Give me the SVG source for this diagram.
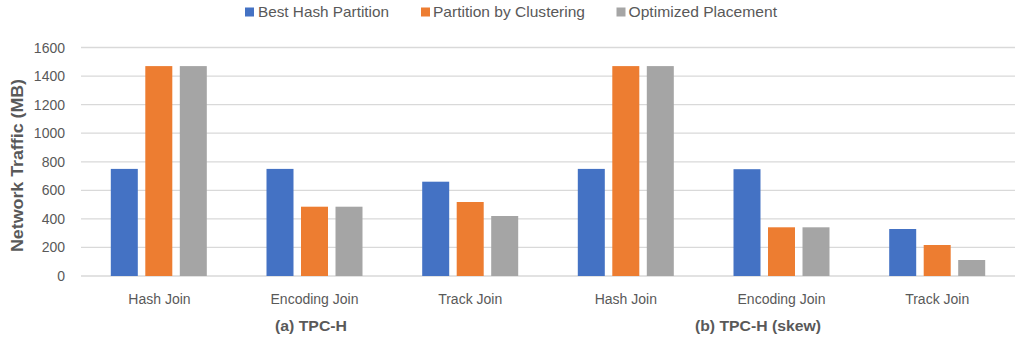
<svg xmlns="http://www.w3.org/2000/svg" width="1017" height="341" viewBox="0 0 1017 341">
<style>
text{font-family:"Liberation Sans",Arial,sans-serif;fill:#595959}
.tick{font-size:14px;text-anchor:end}
.cat{font-size:14px;text-anchor:middle}
.grp{font-size:15px;font-weight:bold;text-anchor:middle}
.leg{font-size:14.5px}
.grid{stroke:#D9D9D9;stroke-width:1.3}
.b{fill:#4472C4}.o{fill:#ED7D31}.g{fill:#A5A5A5}
</style>
<rect width="1017" height="341" fill="#fff"/>
<g id="gridlines">
<line class="grid" x1="81" x2="1015" y1="47.5" y2="47.5"/>
<line class="grid" x1="81" x2="1015" y1="76.1" y2="76.1"/>
<line class="grid" x1="81" x2="1015" y1="104.7" y2="104.7"/>
<line class="grid" x1="81" x2="1015" y1="133.2" y2="133.2"/>
<line class="grid" x1="81" x2="1015" y1="161.8" y2="161.8"/>
<line class="grid" x1="81" x2="1015" y1="190.3" y2="190.3"/>
<line class="grid" x1="81" x2="1015" y1="218.9" y2="218.9"/>
<line class="grid" x1="81" x2="1015" y1="247.4" y2="247.4"/>
<line class="grid" x1="81" x2="1015" y1="276" y2="276"/>
</g>
<g id="yaxis">
<text class="tick" x="65" y="52.5">1600</text>
<text class="tick" x="65" y="81.1">1400</text>
<text class="tick" x="65" y="109.7">1200</text>
<text class="tick" x="65" y="138.2">1000</text>
<text class="tick" x="65" y="166.8">800</text>
<text class="tick" x="65" y="195.3">600</text>
<text class="tick" x="65" y="223.9">400</text>
<text class="tick" x="65" y="252.4">200</text>
<text class="tick" x="65" y="281">0</text>
<text transform="translate(22.5,165.5) rotate(-90)" text-anchor="middle" font-size="16" font-weight="bold" textLength="173" lengthAdjust="spacingAndGlyphs">Network Traffic (MB)</text>
</g>
<g id="bars">
<g id="g1"><rect class="b" x="110.8" y="168.9" width="27" height="107.1"/><rect class="o" x="145.3" y="66.1" width="27" height="209.9"/><rect class="g" x="179.8" y="66.1" width="27" height="209.9"/></g>
<g id="g2"><rect class="b" x="266.5" y="168.9" width="27" height="107.1"/><rect class="o" x="301" y="206.7" width="27" height="69.3"/><rect class="g" x="335.5" y="206.7" width="27" height="69.3"/></g>
<g id="g3"><rect class="b" x="422.2" y="181.7" width="27" height="94.3"/><rect class="o" x="456.7" y="202" width="27" height="74"/><rect class="g" x="491.2" y="216" width="27" height="60"/></g>
<g id="g4"><rect class="b" x="577.8" y="168.9" width="27" height="107.1"/><rect class="o" x="612.3" y="66.1" width="27" height="209.9"/><rect class="g" x="646.8" y="66.1" width="27" height="209.9"/></g>
<g id="g5"><rect class="b" x="733.5" y="169.2" width="27" height="106.8"/><rect class="o" x="768" y="227.3" width="27" height="48.7"/><rect class="g" x="802.5" y="227.3" width="27" height="48.7"/></g>
<g id="g6"><rect class="b" x="889.2" y="229" width="27" height="47"/><rect class="o" x="923.7" y="245" width="27" height="31"/><rect class="g" x="958.2" y="260" width="27" height="16"/></g>
</g>
<g id="xaxis">
<text class="cat" x="159.5" y="304">Hash Join</text>
<text class="cat" x="314.5" y="304">Encoding Join</text>
<text class="cat" x="470.2" y="304">Track Join</text>
<text class="cat" x="625.8" y="304">Hash Join</text>
<text class="cat" x="781.5" y="304">Encoding Join</text>
<text class="cat" x="937.2" y="304">Track Join</text>
<text class="grp" x="311" y="331" textLength="72" lengthAdjust="spacingAndGlyphs">(a) TPC-H</text>
<text class="grp" x="758" y="331" textLength="126" lengthAdjust="spacingAndGlyphs">(b) TPC-H (skew)</text>
</g>
<g id="legend">
<rect class="b" x="245" y="7.5" width="9" height="9"/>
<text class="leg" x="258" y="17" textLength="131" lengthAdjust="spacingAndGlyphs">Best Hash Partition</text>
<rect class="o" x="421" y="7.5" width="9" height="9"/>
<text class="leg" x="433" y="17" textLength="152" lengthAdjust="spacingAndGlyphs">Partition by Clustering</text>
<rect class="g" x="616.5" y="7.5" width="9" height="9"/>
<text class="leg" x="628.5" y="17" textLength="148.5" lengthAdjust="spacingAndGlyphs">Optimized Placement</text>
</g>
</svg>
